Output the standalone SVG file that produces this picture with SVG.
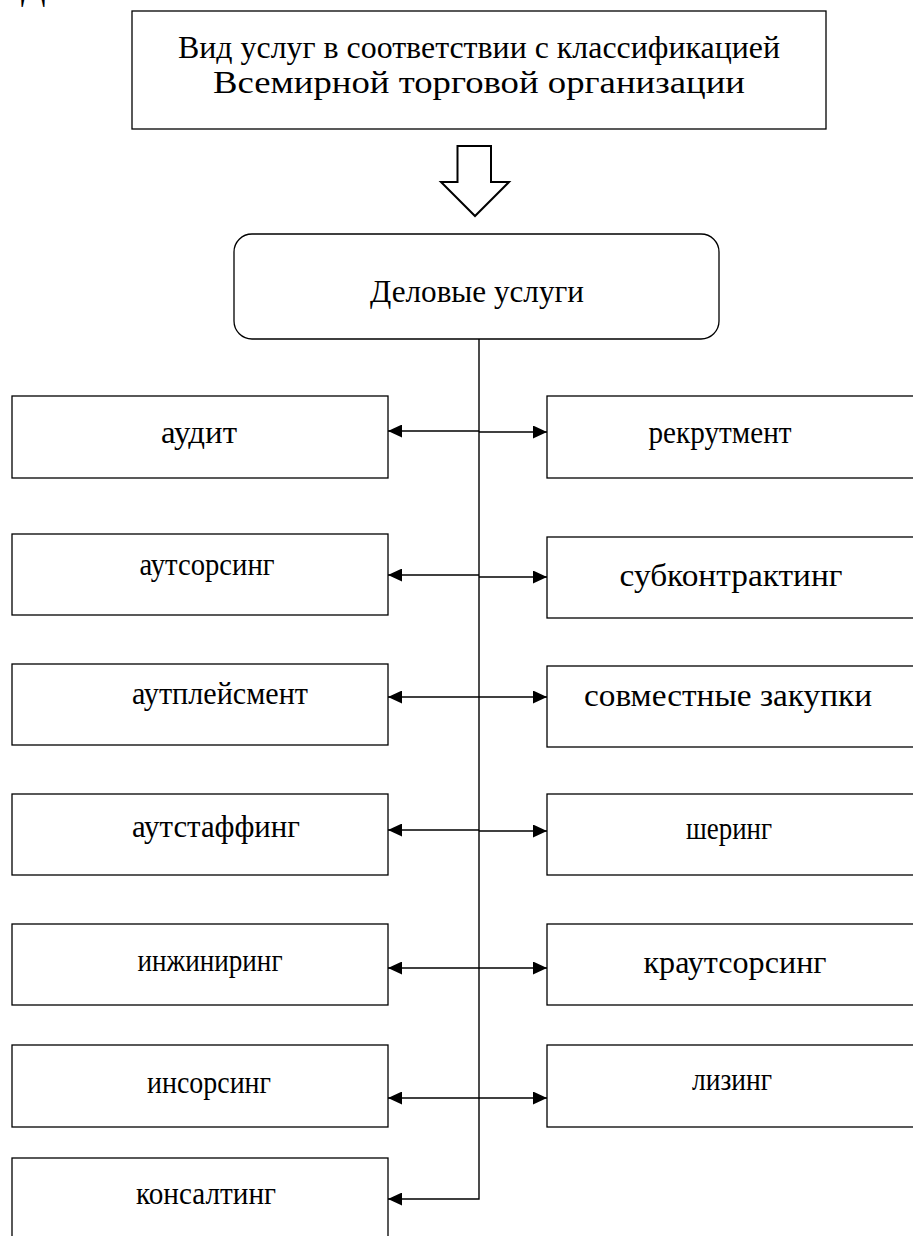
<svg xmlns="http://www.w3.org/2000/svg" width="913" height="1236" viewBox="0 0 913 1236">
  <style>
    .box { fill: #fff; stroke: #000; stroke-width: 1.3; }
    .lbl { font-family: "Liberation Serif", "Times New Roman", serif; font-size: 32px; fill: #000; text-anchor: middle; }
    .wire { fill: none; stroke: #000; stroke-width: 1.4; }
  </style>
  <defs>
    <marker id="ah" viewBox="0 0 14 13" refX="14" refY="6.5" markerWidth="14" markerHeight="13" markerUnits="userSpaceOnUse" orient="auto">
      <path d="M0,0 L14,6.5 L0,13 z" fill="#000"/>
    </marker>
  </defs>
  <rect width="913" height="1236" fill="#fff"/>

  <!-- heading glyph clipped by the top edge -->
  <text x="21" y="-1" font-family="Liberation Serif, serif" font-size="36" fill="#000">Д</text>

  <g id="who-classification">
    <rect class="box" x="132" y="11" width="694" height="118"/>
    <text class="lbl" x="479" y="58" textLength="602" lengthAdjust="spacingAndGlyphs">Вид услуг в соответствии с классификацией</text>
    <text class="lbl" x="479" y="93" textLength="532" lengthAdjust="spacingAndGlyphs">Всемирной торговой организации</text>
  </g>

  <g id="block-arrow">
    <path d="M457.5,146 H491 V182 H509 L475,216 L441,182 H457.5 Z" fill="#fff" stroke="#000" stroke-width="2"/>
  </g>

  <g id="business-services">
    <rect class="box" x="234" y="234" width="485" height="105" rx="18" ry="18" stroke-width="2"/>
    <text class="lbl" x="477" y="302" textLength="214" lengthAdjust="spacingAndGlyphs">Деловые услуги</text>
  </g>

  <g id="connectors">
    <!-- trunk down to the last item -->
    <path class="wire" d="M479,339 V1199 H388" marker-end="url(#ah)"/>
    <!-- left branches -->
    <path class="wire" d="M479,431 H388" marker-end="url(#ah)"/>
    <path class="wire" d="M479,575 H388" marker-end="url(#ah)"/>
    <path class="wire" d="M479,697 H388" marker-end="url(#ah)"/>
    <path class="wire" d="M479,830 H388" marker-end="url(#ah)"/>
    <path class="wire" d="M479,968 H388" marker-end="url(#ah)"/>
    <path class="wire" d="M479,1098 H388" marker-end="url(#ah)"/>
    <!-- right branches -->
    <path class="wire" d="M479,432 H547" marker-end="url(#ah)"/>
    <path class="wire" d="M479,577 H547" marker-end="url(#ah)"/>
    <path class="wire" d="M479,697 H547" marker-end="url(#ah)"/>
    <path class="wire" d="M479,831 H547" marker-end="url(#ah)"/>
    <path class="wire" d="M479,968 H547" marker-end="url(#ah)"/>
    <path class="wire" d="M479,1098 H547" marker-end="url(#ah)"/>
  </g>

  <g id="audit"><rect class="box" x="12" y="396" width="376" height="82"/><text class="lbl" x="199" y="443" textLength="76" lengthAdjust="spacingAndGlyphs">аудит</text></g>
  <g id="outsourcing"><rect class="box" x="12" y="534" width="376" height="81"/><text class="lbl" x="207" y="575" textLength="135" lengthAdjust="spacingAndGlyphs">аутсорсинг</text></g>
  <g id="outplacement"><rect class="box" x="12" y="664" width="376" height="81"/><text class="lbl" x="220" y="704" textLength="176" lengthAdjust="spacingAndGlyphs">аутплейсмент</text></g>
  <g id="outstaffing"><rect class="box" x="12" y="794" width="376" height="81"/><text class="lbl" x="216" y="837" textLength="168" lengthAdjust="spacingAndGlyphs">аутстаффинг</text></g>
  <g id="engineering"><rect class="box" x="12" y="924" width="376" height="81"/><text class="lbl" x="210" y="971" textLength="145" lengthAdjust="spacingAndGlyphs">инжиниринг</text></g>
  <g id="insourcing"><rect class="box" x="12" y="1045" width="376" height="82"/><text class="lbl" x="209" y="1093" textLength="124" lengthAdjust="spacingAndGlyphs">инсорсинг</text></g>
  <g id="consulting"><rect class="box" x="12" y="1158" width="376" height="90"/><text class="lbl" x="206" y="1204" textLength="140" lengthAdjust="spacingAndGlyphs">консалтинг</text></g>

  <g id="recruitment"><rect class="box" x="547" y="396" width="375" height="82"/><text class="lbl" x="720" y="443" textLength="143" lengthAdjust="spacingAndGlyphs">рекрутмент</text></g>
  <g id="subcontracting"><rect class="box" x="547" y="537" width="375" height="81"/><text class="lbl" x="731" y="586" textLength="223" lengthAdjust="spacingAndGlyphs">субконтрактинг</text></g>
  <g id="joint-purchasing"><rect class="box" x="547" y="666" width="375" height="81"/><text class="lbl" x="728" y="706" textLength="288" lengthAdjust="spacingAndGlyphs">совместные закупки</text></g>
  <g id="sharing"><rect class="box" x="547" y="794" width="375" height="81"/><text class="lbl" x="729" y="839" textLength="86" lengthAdjust="spacingAndGlyphs">шеринг</text></g>
  <g id="crowdsourcing"><rect class="box" x="547" y="924" width="375" height="81"/><text class="lbl" x="735" y="973" textLength="183" lengthAdjust="spacingAndGlyphs">краутсорсинг</text></g>
  <g id="leasing"><rect class="box" x="547" y="1045" width="375" height="82"/><text class="lbl" x="732" y="1090" textLength="80" lengthAdjust="spacingAndGlyphs">лизинг</text></g>
</svg>
